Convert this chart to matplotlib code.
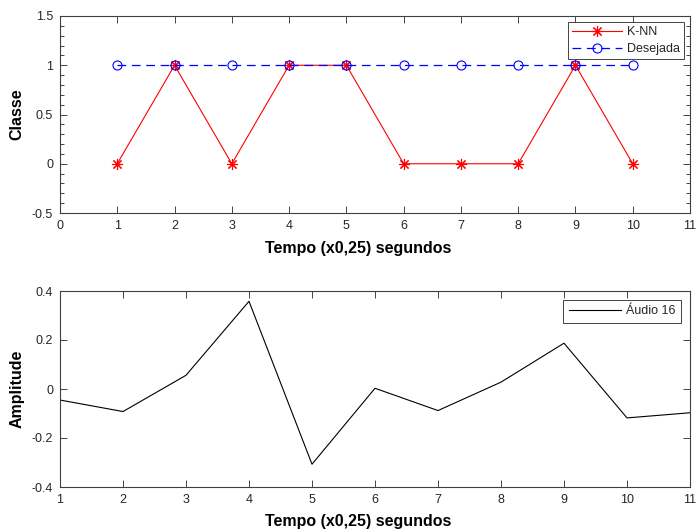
import matplotlib
matplotlib.use('Agg')
import matplotlib.pyplot as plt
from matplotlib.ticker import MultipleLocator

plt.rcParams['font.family'] = ['Liberation Sans', 'DejaVu Sans']
plt.rcParams['text.color'] = '#262626'

t_class = [1, 2, 3, 4, 5, 6, 7, 8, 9, 10]
knn = [0, 1, 0, 1, 1, 0, 0, 0, 1, 0]
desejada = [1, 1, 1, 1, 1, 1, 1, 1, 1, 1]

t_audio = [1, 2, 3, 4, 5, 6, 7, 8, 9, 10, 11]
audio16 = [-0.045, -0.092, 0.056, 0.358, -0.307, 0.003, -0.088, 0.028, 0.187, -0.118, -0.097]

fig = plt.figure(figsize=(6.98, 5.29), dpi=100)
ax1 = fig.add_axes([60/698, 1 - 213/529, 630/698, 197/529])
ax2 = fig.add_axes([60/698, 1 - 487/529, 630/698, 196/529])

ax1.plot(t_class, knn, color='red', lw=0.8, marker=(8, 2, 0), ms=8, mew=0.8, label='K-NN')
ax1.plot(t_class, desejada, color='blue', lw=0.9, ls=(0, (7, 4.5)), marker='o', ms=6.5,
         mfc='none', mew=0.8, label='Desejada')
ax1.set_xlim(0, 11)
ax1.set_ylim(-0.5, 1.5)
ax1.set_xticks(range(0, 12))
ax1.set_yticks([-0.5, 0, 0.5, 1, 1.5])
ax1.set_yticklabels(['-0.5', '0', '0.5', '1', '1.5'])
ax1.yaxis.set_minor_locator(MultipleLocator(0.1))
ax1.set_xlabel('Tempo (x0,25) segundos', fontsize=11.5, fontweight='bold')
ax1.xaxis.set_label_coords(0.473, -0.142)
ax1.set_ylabel('Classe', fontsize=11.5, fontweight='bold', labelpad=5)
leg1 = ax1.legend(loc='upper right', fontsize=9, frameon=True, fancybox=False,
                  edgecolor='#262626', framealpha=1, borderaxespad=0.45,
                  handlelength=4, borderpad=0.35, labelspacing=0.4, handletextpad=0.4)
leg1.get_frame().set_linewidth(0.6)

ax2.plot(t_audio, audio16, color='black', lw=0.8, label='Áudio 16')
ax2.set_xlim(1, 11)
ax2.set_ylim(-0.4, 0.4)
ax2.set_xticks(range(1, 12))
ax2.set_yticks([-0.4, -0.2, 0, 0.2, 0.4])
ax2.set_yticklabels(['-0.4', '-0.2', '0', '0.2', '0.4'])
ax2.set_xlabel('Tempo (x0,25) segundos', fontsize=11.5, fontweight='bold')
ax2.xaxis.set_label_coords(0.473, -0.138)
ax2.set_ylabel('Amplitude', fontsize=11.5, fontweight='bold', labelpad=5)
leg2 = ax2.legend(loc='upper right', fontsize=9, frameon=True, fancybox=False,
                  edgecolor='#262626', framealpha=1, borderaxespad=0.7,
                  handlelength=4.2, borderpad=0.45, handletextpad=0.4)
leg2.get_frame().set_linewidth(0.6)

for ax in (ax1, ax2):
    for s in ax.spines.values():
        s.set_color('#404040')
        s.set_linewidth(0.8)
    ax.tick_params(which='both', direction='in', top=True, right=True,
                   labelsize=9, color='#262626', labelcolor='#262626', width=0.6, pad=5)
    ax.tick_params(which='major', length=5)
    ax.tick_params(which='minor', length=3)

plt.savefig('out.png')
